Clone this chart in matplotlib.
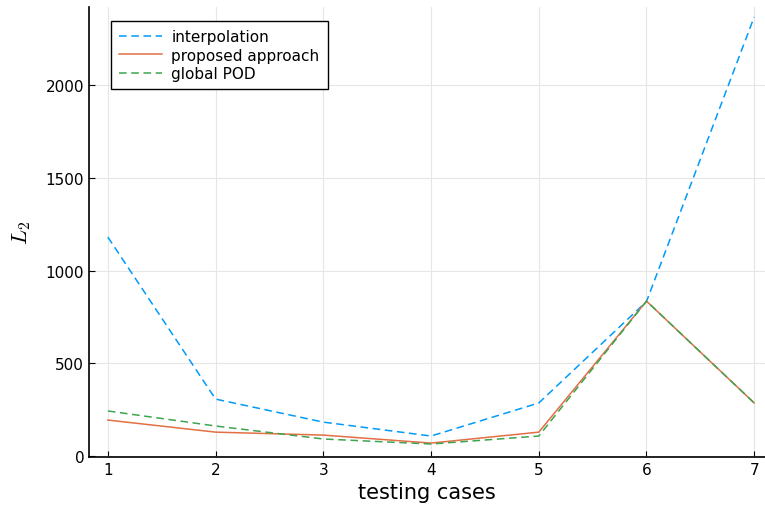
import numpy as np
import matplotlib.pyplot as plt

plt.rcParams['mathtext.fontset'] = 'cm'

cases = [1, 2, 3, 4, 5, 6, 7]
interpolation = [1180, 307, 183, 108, 286, 833, 2367]
proposed = [194, 129, 113, 70, 129, 835, 286]
global_pod = [243, 162, 92, 65, 108, 835, 286]

fig = plt.figure(figsize=(7.65, 5.1), dpi=100)
ax = fig.add_axes([89/765, 1 - 458/510, (765 - 89)/765, (458 - 8)/510])

ax.plot(cases, interpolation, color='#009AFA', ls=(0, (5, 3)), lw=1.1, label='interpolation')
ax.plot(cases, proposed, color='#E26F46', lw=1.1, label='proposed approach')
ax.plot(cases, global_pod, color='#3EA44E', ls=(0, (5, 3)), lw=1.1, label='global POD')

ax.set_xlim(0.825, 7.1)
ax.set_ylim(-5, 2420)
ax.set_xticks(cases)
ax.set_yticks([0, 500, 1000, 1500, 2000])
ax.grid(True, color='#e6e6e6', lw=0.8)
ax.set_axisbelow(True)
for s in ['top', 'right']:
    ax.spines[s].set_visible(False)
for s in ['left', 'bottom']:
    ax.spines[s].set_linewidth(1.2)
ax.tick_params(direction='in', length=4, labelsize=11)
ax.set_xlabel('testing cases', fontsize=15)
ax.set_ylabel('$L_2$', fontsize=16, labelpad=9)

leg = ax.legend(loc='upper left', bbox_to_anchor=(0.0325, 0.969), fontsize=11,
                fancybox=False, framealpha=1, edgecolor='black', borderaxespad=0,
                handlelength=2.8, handletextpad=0.6, labelspacing=0.22, borderpad=0.55)
leg.get_frame().set_linewidth(1.0)

plt.savefig('out.png', dpi=100)
